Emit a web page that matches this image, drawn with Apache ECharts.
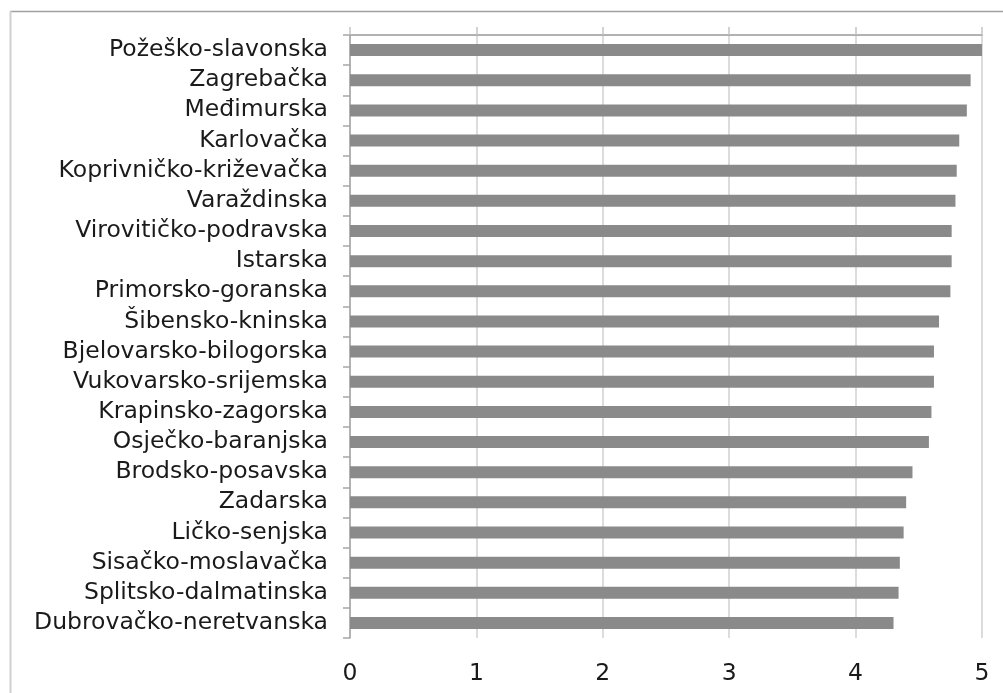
<!DOCTYPE html>
<html>
<head>
<meta charset="utf-8">
<script src="https://cdn.jsdelivr.net/npm/echarts@6/dist/echarts.min.js"></script>
<style>
html,body{margin:0;padding:0;background:#fff;}
#chart{width:1003px;height:693px;}
</style>
</head>
<body>
<div id="chart"></div>
<script>
const categories = [
  "Požeško-slavonska","Zagrebačka","Međimurska","Karlovačka","Koprivničko-križevačka",
  "Varaždinska","Virovitičko-podravska","Istarska","Primorsko-goranska","Šibensko-kninska",
  "Bjelovarsko-bilogorska","Vukovarsko-srijemska","Krapinsko-zagorska","Osječko-baranjska",
  "Brodsko-posavska","Zadarska","Ličko-senjska","Sisačko-moslavačka","Splitsko-dalmatinska",
  "Dubrovačko-neretvanska"
];
const values = [5.00,4.91,4.88,4.82,4.80,4.79,4.76,4.76,4.75,4.66,4.62,4.62,4.60,4.58,4.45,4.40,4.38,4.35,4.34,4.30];
const xTicks = [0,1,2,3,4,5];

const FONT = "DejaVu Sans";
const chart = echarts.init(document.getElementById('chart'));
chart.setOption({
  animation:false,
  backgroundColor:'#fff',
  grid:{left:350,right:21,top:35,bottom:55,containLabel:false},
  graphic:[
    {type:'line',shape:{x1:10,y1:11.5,x2:1003,y2:11.5},style:{stroke:'#a0a0a0',lineWidth:1.5}},
    {type:'line',shape:{x1:10.5,y1:11,x2:10.5,y2:693},style:{stroke:'#d0d0d0',lineWidth:2}}
  ],
  xAxis:[
    {type:'value',position:'bottom',min:xTicks[0],max:xTicks[xTicks.length-1],interval:1,
     axisLine:{show:false},axisTick:{show:false},
     splitLine:{show:true,lineStyle:{color:'#d0d0d0',width:1.5}},
     axisLabel:{fontFamily:FONT,fontSize:23.5,color:'#1a1a1a',margin:24}},
    {type:'value',position:'top',min:xTicks[0],max:xTicks[xTicks.length-1],interval:1,
     axisLine:{show:true,lineStyle:{color:'#999',width:1.5}},
     axisTick:{show:true,length:8,lineStyle:{color:'#c4c4c4',width:1.5}},
     splitLine:{show:false},axisLabel:{show:false}}
  ],
  yAxis:{type:'category',data:categories,inverse:true,
    axisLine:{show:true,lineStyle:{color:'#a6a6a6',width:1.5}},
    axisTick:{show:true,interval:0,length:7,lineStyle:{color:'#a6a6a6',width:1.5}},
    axisLabel:{interval:0,fontFamily:FONT,fontSize:23.5,color:'#1a1a1a',margin:22}},
  series:[{type:'bar',data:values,xAxisIndex:0,barWidth:12,
    itemStyle:{color:'#8a8a8a'}}]
});
</script>
</body>
</html>
